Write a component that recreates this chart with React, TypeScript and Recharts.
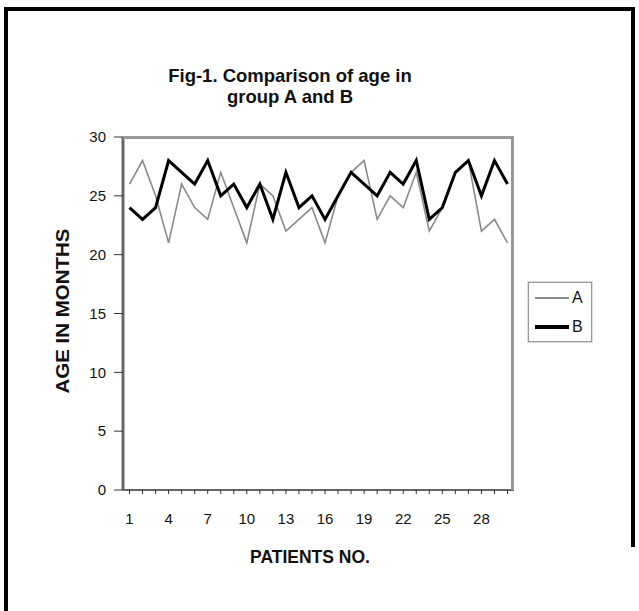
import { LineChart, Line, XAxis, YAxis } from 'recharts';

const patients = Array.from({ length: 30 }, (_, i) => String(i + 1));
const groupA = [26, 28, 25, 21, 26, 24, 23, 27, 24, 21, 26, 25, 22, 23, 24, 21, 25, 27, 28, 23, 25, 24, 27, 22, 24, 27, 28, 22, 23, 21];
const groupB = [24, 23, 24, 28, 27, 26, 28, 25, 26, 24, 26, 23, 27, 24, 25, 23, 25, 27, 26, 25, 27, 26, 28, 23, 24, 27, 28, 25, 28, 26];
const yTicks = [0, 5, 10, 15, 20, 25, 30];

const data = patients.map((p, i) => ({ patient: p, A: groupA[i], B: groupB[i] }));

const font = '"Liberation Sans", Arial, sans-serif';

// only every third patient number gets a label, like the original
const PatientTick = (props: any) => {
  const { x, y, payload, index } = props;
  if (index % 3 !== 0) return <g />;
  return (
    <text x={x} y={y} dy={13} textAnchor="middle" fontSize={15} fill="#111" fontFamily={font}>
      {payload.value}
    </text>
  );
};

export default function App() {
  return (
    <div style={{ position: 'absolute', left: 0, top: 0, width: 639, height: 611, background: '#fff', fontFamily: font }}>
      {/* outer frame */}
      <div style={{ position: 'absolute', left: 4, top: 7, width: 4, height: 604, background: '#000' }} />
      <div style={{ position: 'absolute', left: 4, top: 7, width: 631, height: 4, background: '#000' }} />
      <div style={{ position: 'absolute', left: 631, top: 7, width: 4, height: 540, background: '#000' }} />

      <div style={{ position: 'absolute', left: 120, top: 65, width: 340, textAlign: 'center', fontSize: 18.5, fontWeight: 'bold', lineHeight: '21px', color: '#111' }}>
        Fig-1. Comparison of age in
        <br />
        group A and B
      </div>

      <div
        style={{
          position: 'absolute',
          left: 63,
          top: 311,
          transform: 'translate(-50%, -50%) rotate(-90deg) scaleX(1.17)',
          fontSize: 17.5,
          fontWeight: 'bold',
          whiteSpace: 'nowrap',
          color: '#111',
        }}
      >
        AGE IN MONTHS
      </div>

      <div style={{ position: 'absolute', left: 160, top: 547, width: 300, textAlign: 'center', fontSize: 17.5, fontWeight: 'bold', color: '#111' }}>
        PATIENTS NO.
      </div>

      <div style={{ position: 'absolute', left: 0, top: 0 }}>
        <LineChart width={639} height={611} data={data} margin={{ top: 137, right: 125, bottom: 91, left: 73 }}>
          <XAxis
            dataKey="patient"
            interval={0}
            padding={{ left: 6.5, right: 6.5 }}
            axisLine={{ stroke: '#666', strokeWidth: 2 }}
            tickLine={{ stroke: '#333' }}
            tickSize={4}
            tickMargin={17}
            height={30}
            tick={<PatientTick />}
          />
          <YAxis
            domain={[0, 30]}
            ticks={yTicks}
            width={50}
            axisLine={{ stroke: '#666', strokeWidth: 3 }}
            tickLine={{ stroke: '#333' }}
            tickSize={9}
            tickMargin={8}
            tick={{ fontSize: 15, fill: '#111', fontFamily: font }}
          />
          <Line dataKey="A" stroke="#8a8a8a" strokeWidth={1.6} dot={false} isAnimationActive={false} />
          <Line dataKey="B" stroke="#000" strokeWidth={3} dot={false} isAnimationActive={false} />
        </LineChart>
      </div>

      {/* plot area outline */}
      <div style={{ position: 'absolute', left: 123, top: 136, width: 391, height: 354, borderTop: '3px solid #999', borderRight: '3px solid #999', boxSizing: 'border-box', pointerEvents: 'none' }} />

      {/* legend */}
      <div
        style={{
          position: 'absolute',
          left: 528,
          top: 282,
          width: 64,
          height: 60,
          boxSizing: 'border-box',
          border: '1px solid #999',
          boxShadow: '0 0 0 1px #ddd',
          background: '#fff',
          fontSize: 16,
          color: '#111',
        }}
      >
        <div style={{ display: 'flex', alignItems: 'center', height: 29, paddingLeft: 6 }}>
          <span style={{ display: 'inline-block', width: 34, height: 0, borderTop: '2px solid #8a8a8a' }} />
          <span style={{ marginLeft: 3 }}>A</span>
        </div>
        <div style={{ display: 'flex', alignItems: 'center', height: 29, paddingLeft: 6 }}>
          <span style={{ display: 'inline-block', width: 34, height: 0, borderTop: '4px solid #000' }} />
          <span style={{ marginLeft: 3 }}>B</span>
        </div>
      </div>
    </div>
  );
}
